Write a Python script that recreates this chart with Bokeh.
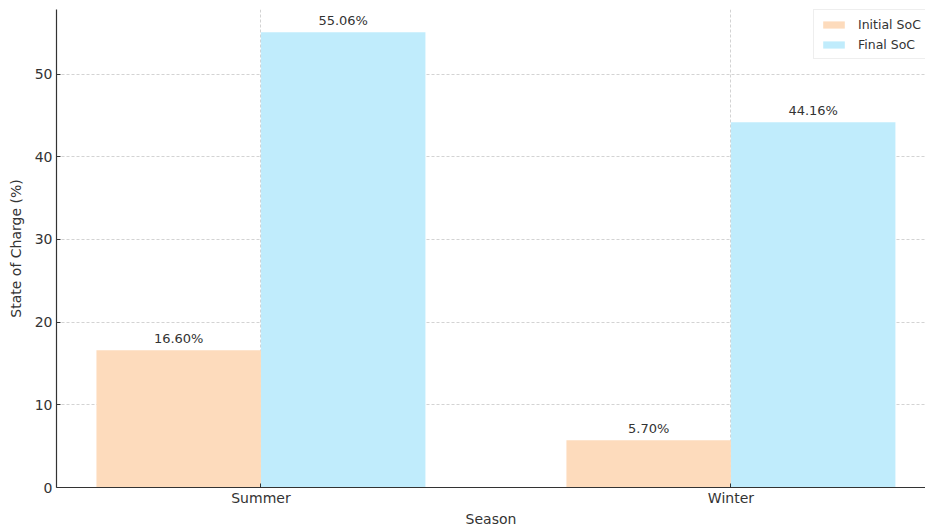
from bokeh.plotting import figure
from bokeh.models import (ColumnDataSource, Range1d, FixedTicker, Legend, LegendItem,
                          LabelSet)
from bokeh.core.properties import value
from bokeh.embed import file_html
from bokeh.resources import INLINE

# Battery state of charge at start and end of the day, per season
seasons = ["Summer", "Winter"]
initial_soc = [16.60, 5.70]
final_soc = [55.06, 44.16]

bar_w = 0.35
pos = list(range(len(seasons)))
init_x = [p - bar_w / 2 for p in pos]
final_x = [p + bar_w / 2 for p in pos]

FONT = "DejaVu Sans"
TXT = "#333333"

src_i = ColumnDataSource(dict(x=init_x, top=initial_soc,
                              lab=[f"{v:.2f}%" for v in initial_soc]))
src_f = ColumnDataSource(dict(x=final_x, top=final_soc,
                              lab=[f"{v:.2f}%" for v in final_soc]))

p = figure(width=925, height=529, output_backend="svg", toolbar_location=None,
           x_range=Range1d(-0.435, 1.414), y_range=Range1d(0, 57.8))
p.min_border_left = 56
p.min_border_right = 0
p.min_border_top = 9
p.min_border_bottom = 42
p.outline_line_color = None
p.background_fill_color = "white"

r_i = p.vbar(x="x", top="top", width=bar_w, source=src_i,
             fill_color="#fddbbc", line_color=None)
r_f = p.vbar(x="x", top="top", width=bar_w, source=src_f,
             fill_color="#c0ecfc", line_color=None)

for src in (src_i, src_f):
    p.add_layout(LabelSet(x="x", y="top", text="lab", source=src,
                          text_align="center", text_baseline="bottom",
                          y_offset=4, text_font=value(FONT),
                          text_font_size=value("13px"), text_color=TXT))

# axes
p.xaxis.ticker = FixedTicker(ticks=pos)
p.xaxis.major_label_overrides = {i: s for i, s in enumerate(seasons)}
p.yaxis.ticker = FixedTicker(ticks=[0, 10, 20, 30, 40, 50])
for ax in (p.xaxis[0], p.yaxis[0]):
    ax.axis_line_color = "#333333"
    ax.axis_line_width = 1.2
    ax.major_tick_line_color = "#333333"
    ax.major_tick_out = 0
    ax.major_tick_in = 4
    ax.minor_tick_line_color = None
    ax.major_label_text_font = FONT
    ax.major_label_text_font_size = "14px"
    ax.major_label_text_color = TXT
    ax.axis_label_text_font = FONT
    ax.axis_label_text_font_size = "14px"
    ax.axis_label_text_font_style = "normal"
    ax.axis_label_text_color = TXT
p.xaxis.axis_label = "Season"
p.yaxis.axis_label = "State of Charge (%)"
p.xaxis.major_label_standoff = 2
p.xaxis.axis_label_standoff = 2
p.yaxis.major_label_standoff = 4
p.yaxis.axis_label_standoff = 8

# grid
for g in (p.xgrid[0], p.ygrid[0]):
    g.grid_line_color = "#c8c8c8"
    g.grid_line_dash = "3 2"
    g.grid_line_width = 0.8
p.xgrid.ticker = FixedTicker(ticks=pos)

legend = Legend(items=[LegendItem(label="Initial SoC", renderers=[r_i]),
                       LegendItem(label="Final SoC", renderers=[r_f])],
                location=(757, 428))
legend.label_text_font = FONT
legend.label_text_font_size = "12.5px"
legend.label_text_color = TXT
legend.glyph_width = 27
legend.glyph_height = 9
legend.label_height = 16
legend.spacing = 4
legend.padding = 6
legend.margin = 0
legend.label_standoff = 11
legend.border_line_color = "#dddddd"
legend.border_line_width = 1
legend.background_fill_alpha = 0.9
p.add_layout(legend)

open("out.html", "w").write(file_html(p, INLINE))
